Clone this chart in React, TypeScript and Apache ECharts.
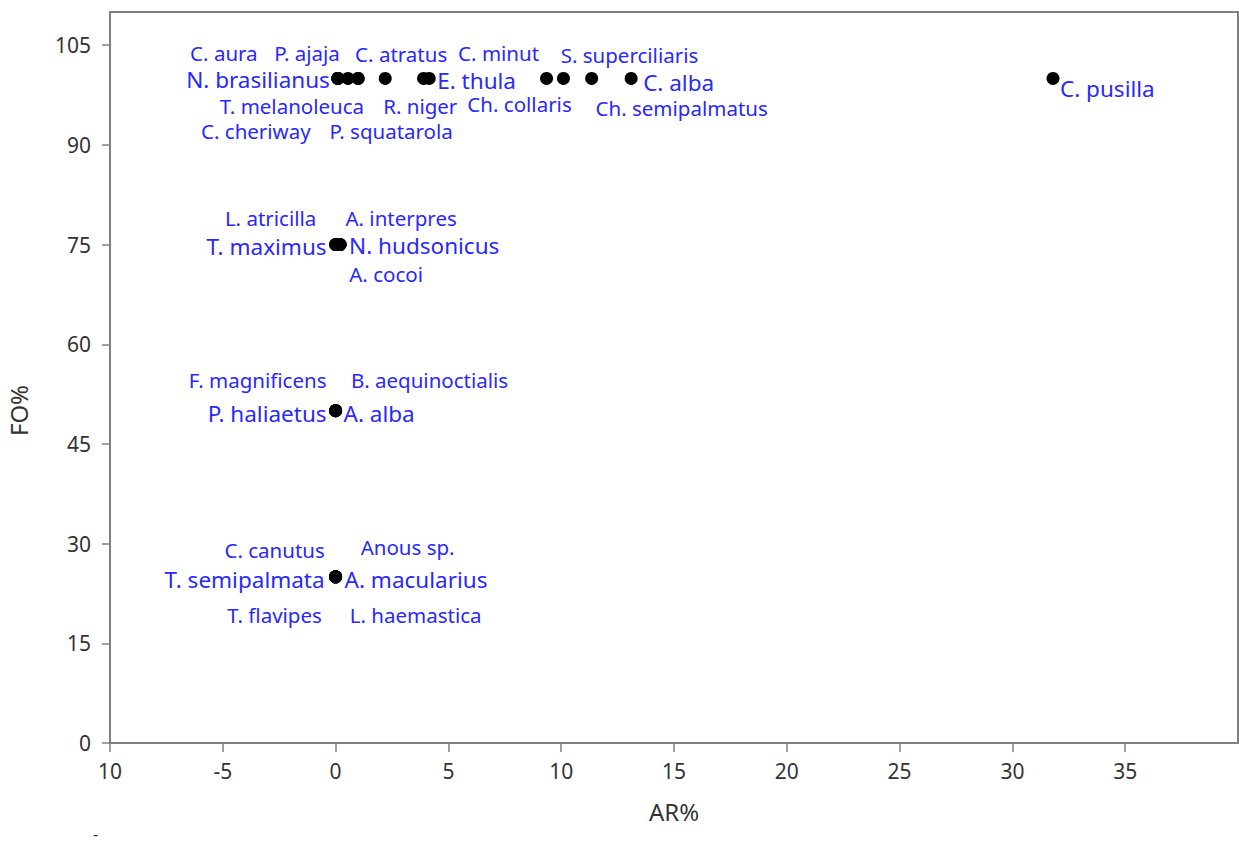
import React, { useEffect, useRef } from "react";
import * as echarts from "echarts";

const speciesNames = [
  "C. aura", "P. ajaja", "C. atratus", "C. minut", "S. superciliaris",
  "N. brasilianus", "E. thula", "C. alba", "C. pusilla",
  "T. melanoleuca", "R. niger", "Ch. collaris", "Ch. semipalmatus",
  "C. cheriway", "P. squatarola",
  "L. atricilla", "A. interpres", "T. maximus", "N. hudsonicus", "A. cocoi",
  "F. magnificens", "B. aequinoctialis", "P. haliaetus", "A. alba",
  "C. canutus", "Anous sp.", "T. semipalmata", "A. macularius", "T. flavipes", "L. haemastica",
];
const arValues = [
  0.1, 0.55, 1.0, 3.9, 10.1,
  0.1, 4.15, 13.1, 31.8,
  0.1, 2.2, 9.35, 11.35,
  0.1, 1.0,
  0, 0.2, 0, 0.2, 0.2,
  0, 0, 0, 0,
  0, 0, 0, 0, 0, 0,
];
const foValues = [
  100, 100, 100, 100, 100,
  100, 100, 100, 100,
  100, 100, 100, 100,
  100, 100,
  75, 75, 75, 75, 75,
  50, 50, 50, 50,
  25, 25, 25, 25, 25, 25,
];
// label placement (pixels relative to the point)
const labelDx = [
  -114, -41, 43, 75, 66,
  -8, 8, 12, 7,
  -46, 35, -27, 90,
  -82, 33,
  -65, 61, -9, 9, 46,
  -78, 94, -9, 8,
  -61, 72, -11, 9, -61, 80,
];
const labelDy = [
  -25, -25, -24, -25, -23,
  1, 2, 4, 10,
  28, 28, 26, 30,
  53, 53,
  -27, -27, 2, 1, 29,
  -31, -31, 3, 3,
  -27, -30, 3, 3, 38, 38,
];
const labelAlign = [
  "center", "center", "center", "center", "center",
  "right", "left", "left", "left",
  "center", "center", "center", "center",
  "center", "center",
  "center", "center", "right", "left", "center",
  "center", "center", "right", "left",
  "center", "center", "right", "left", "center", "center",
];

const xTicks = [-10, -5, 0, 5, 10, 15, 20, 25, 30, 35];
const yTicks = [0, 15, 30, 45, 60, 75, 90, 105];

export default function App() {
  const ref = useRef<HTMLDivElement>(null);
  useEffect(() => {
    document.body.style.margin = "0";
    const chart = echarts.init(ref.current!, null, { renderer: "svg" });
    const font = "Noto Sans";
    const axisColor = "#808080";
    const data = speciesNames.map((n, i) => {
      const side = labelAlign[i] !== "center";
      return {
        name: n,
        value: [arValues[i], foValues[i]],
        label: {
          show: true,
          position: "inside",
          offset: [labelDx[i], labelDy[i]],
          align: labelAlign[i],
          verticalAlign: "middle",
          formatter: n,
          color: "#2828ff",
          opacity: 1,
          fontSize: side ? 22.5 : 20.5,
          lineHeight: side ? 21 : 19,
          fontFamily: font,
        },
      };
    });
    chart.setOption({
      animation: false,
      backgroundColor: "#ffffff",
      grid: {
        left: 110,
        right: 1,
        top: 12,
        bottom: 101,
        containLabel: false,
        outerBoundsMode: "none",
        show: true,
        borderColor: axisColor,
        borderWidth: 2,
      },
      xAxis: {
        type: "value",
        min: -10,
        max: 40,
        interval: 5,
        name: "AR%",
        nameLocation: "middle",
        nameGap: 56,
        nameTextStyle: { color: "#333", fontSize: 24, fontFamily: font },
        axisLine: { show: true, onZero: false, lineStyle: { color: axisColor, width: 2 } },
        axisTick: { show: true, length: 9, customValues: xTicks, lineStyle: { color: axisColor, width: 1.5 } },
        axisLabel: {
          customValues: xTicks,
          margin: 17,
          color: "#333",
          fontSize: 21,
          fontFamily: font,
          formatter: (v: number) => (v === -10 ? "10" : String(v)),
        },
        splitLine: { show: false },
      },
      yAxis: {
        type: "value",
        min: 0,
        max: 110,
        interval: 15,
        name: "FO%",
        nameLocation: "middle",
        nameGap: 80,
        nameRotate: 90,
        nameTextStyle: { color: "#333", fontSize: 24, fontFamily: font, padding: [0, 66, 0, 0] },
        axisLine: { show: true, onZero: false, lineStyle: { color: axisColor, width: 2 } },
        axisTick: { show: true, length: 8, customValues: yTicks, lineStyle: { color: axisColor, width: 1.5 } },
        axisLabel: {
          customValues: yTicks,
          margin: 19,
          color: "#333",
          fontSize: 21,
          fontFamily: font,
        },
        splitLine: { show: false },
      },
      graphic: [
        { type: "text", left: 93, top: 826, style: { text: "-", fontSize: 16, fill: "#333", fontFamily: font } },
      ],
      series: [
        {
          type: "scatter",
          symbol: "circle",
          symbolSize: 13,
          itemStyle: { color: "#000000", opacity: 1 },
          emphasis: { disabled: true },
          data,
        },
      ],
    });
    return () => chart.dispose();
  }, []);
  return <div ref={ref} style={{ width: 1239, height: 844 }} />;
}
